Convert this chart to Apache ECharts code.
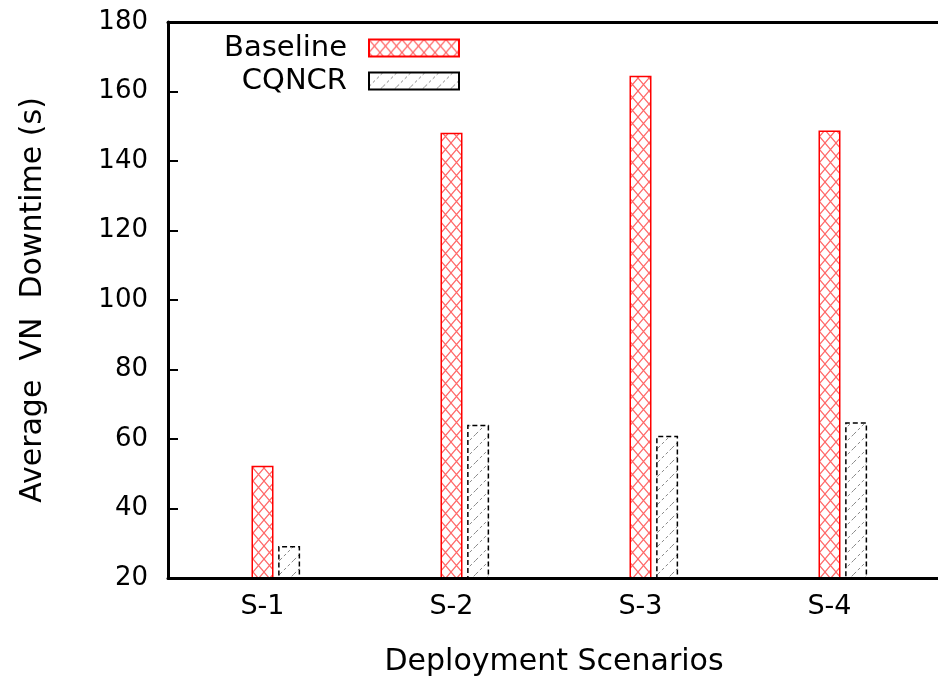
<!DOCTYPE html>
<html>
<head>
<meta charset="utf-8">
<script src="https://cdn.jsdelivr.net/npm/echarts@6/dist/echarts.min.js"></script>
<style>
  html, body { margin: 0; padding: 0; background: #fff; }
  #chart { width: 938px; height: 679px; }
</style>
</head>
<body>
<div id="chart"></div>
<script>
// ---- data ----
const categories = ['S-1', 'S-2', 'S-3', 'S-4'];
const baselineValues = [52.3, 148.1, 164.5, 148.8];
const cqncrValues = [29.2, 64.1, 60.9, 64.8];
const seriesNames = ['Baseline', 'CQNCR'];
const yMin = 20, yMax = 180, yStep = 20;
const xTitle = 'Deployment Scenarios';
const yTitle = 'Average  VN  Downtime (s)';

// ---- patterns ----
function crossHatch() {
  const c = document.createElement('canvas');
  c.width = 11; c.height = 13;
  const g = c.getContext('2d');
  g.fillStyle = '#fff'; g.fillRect(0, 0, 11, 13);
  g.strokeStyle = 'rgba(255,40,40,0.7)'; g.lineWidth = 1.2;
  g.beginPath();
  g.moveTo(0, 0); g.lineTo(11, 13);
  g.moveTo(11, 0); g.lineTo(0, 13);
  g.stroke();
  return c;
}
function diagHatch() {
  const c = document.createElement('canvas');
  c.width = 14; c.height = 14;
  const g = c.getContext('2d');
  g.fillStyle = '#fff'; g.fillRect(0, 0, 14, 14);
  g.strokeStyle = '#8a8a8a'; g.lineWidth = 1;
  g.setLineDash([3, 2.5]);
  g.beginPath();
  g.moveTo(0, 14); g.lineTo(14, 0);
  g.stroke();
  return c;
}

const FONT = 'DejaVu Sans';
const chart = echarts.init(document.getElementById('chart'), null, { renderer: 'canvas' });
// one empty trailing slot so the frame runs past the right edge, as in the reference
const xData = categories.concat(['']);

chart.setOption({
  animation: false,
  backgroundColor: '#fff',
  grid: { left: 168, top: 22, bottom: 101, width: 945, outerBoundsMode: 'none', containLabel: false },
  legend: {
    data: seriesNames,
    orient: 'vertical',
    align: 'right',
    right: 478,
    top: 33,
    padding: 0,
    icon: 'rect',
    itemWidth: 90,
    itemHeight: 17,
    itemGap: 3,
    selectedMode: false,
    textStyle: { fontFamily: FONT, fontSize: 29, color: '#000', lineHeight: 30, padding: [0, 17, 0, 0] }
  },
  xAxis: [
    {
      type: 'category', data: xData, position: 'bottom', z: 10,
      axisLine: { lineStyle: { color: '#000', width: 3 } },
      axisTick: { inside: true, length: 10, alignWithLabel: true, lineStyle: { color: '#000', width: 2 } },
      axisLabel: { fontFamily: FONT, fontSize: 27, color: '#000', margin: 15 }
    },
    {
      type: 'category', data: xData, position: 'top', z: 10,
      axisLine: { lineStyle: { color: '#000', width: 3 } },
      axisTick: { inside: true, length: 10, alignWithLabel: true, lineStyle: { color: '#000', width: 2 } },
      axisLabel: { show: false }
    }
  ],
  yAxis: {
    type: 'value', min: yMin, max: yMax, interval: yStep, z: 10,
    name: yTitle, nameLocation: 'middle', nameGap: 120,
    nameTextStyle: { fontFamily: FONT, fontSize: 30, color: '#000' },
    axisLine: { show: true, lineStyle: { color: '#000', width: 3 } },
    axisTick: { show: true, inside: true, length: 10, lineStyle: { color: '#000', width: 2 } },
    axisLabel: { fontFamily: FONT, fontSize: 26, color: '#000', margin: 20 },
    splitLine: { show: false }
  },
  graphic: [
    {
      type: 'text', x: 554, y: 662,
      style: { text: xTitle, fontFamily: FONT, fontSize: 30, fill: '#000', align: 'center', verticalAlign: 'middle' }
    }
  ],
  series: [
    {
      name: '_pad', type: 'bar', silent: true, barWidth: 22, barGap: '21%',
      data: categories.map(() => '-')
    },
    {
      name: seriesNames[0], type: 'bar', barWidth: 22, barGap: '21%',
      data: baselineValues,
      itemStyle: { color: { image: crossHatch(), repeat: 'repeat' }, borderColor: '#ff0000', borderWidth: 1.5 }
    },
    {
      name: seriesNames[1], type: 'bar', barWidth: 22, barGap: '21%',
      data: cqncrValues,
      itemStyle: { color: { image: diagHatch(), repeat: 'repeat' }, borderColor: '#000', borderWidth: 1.5, borderType: [5, 3] }
    }
  ]
});
</script>
</body>
</html>
